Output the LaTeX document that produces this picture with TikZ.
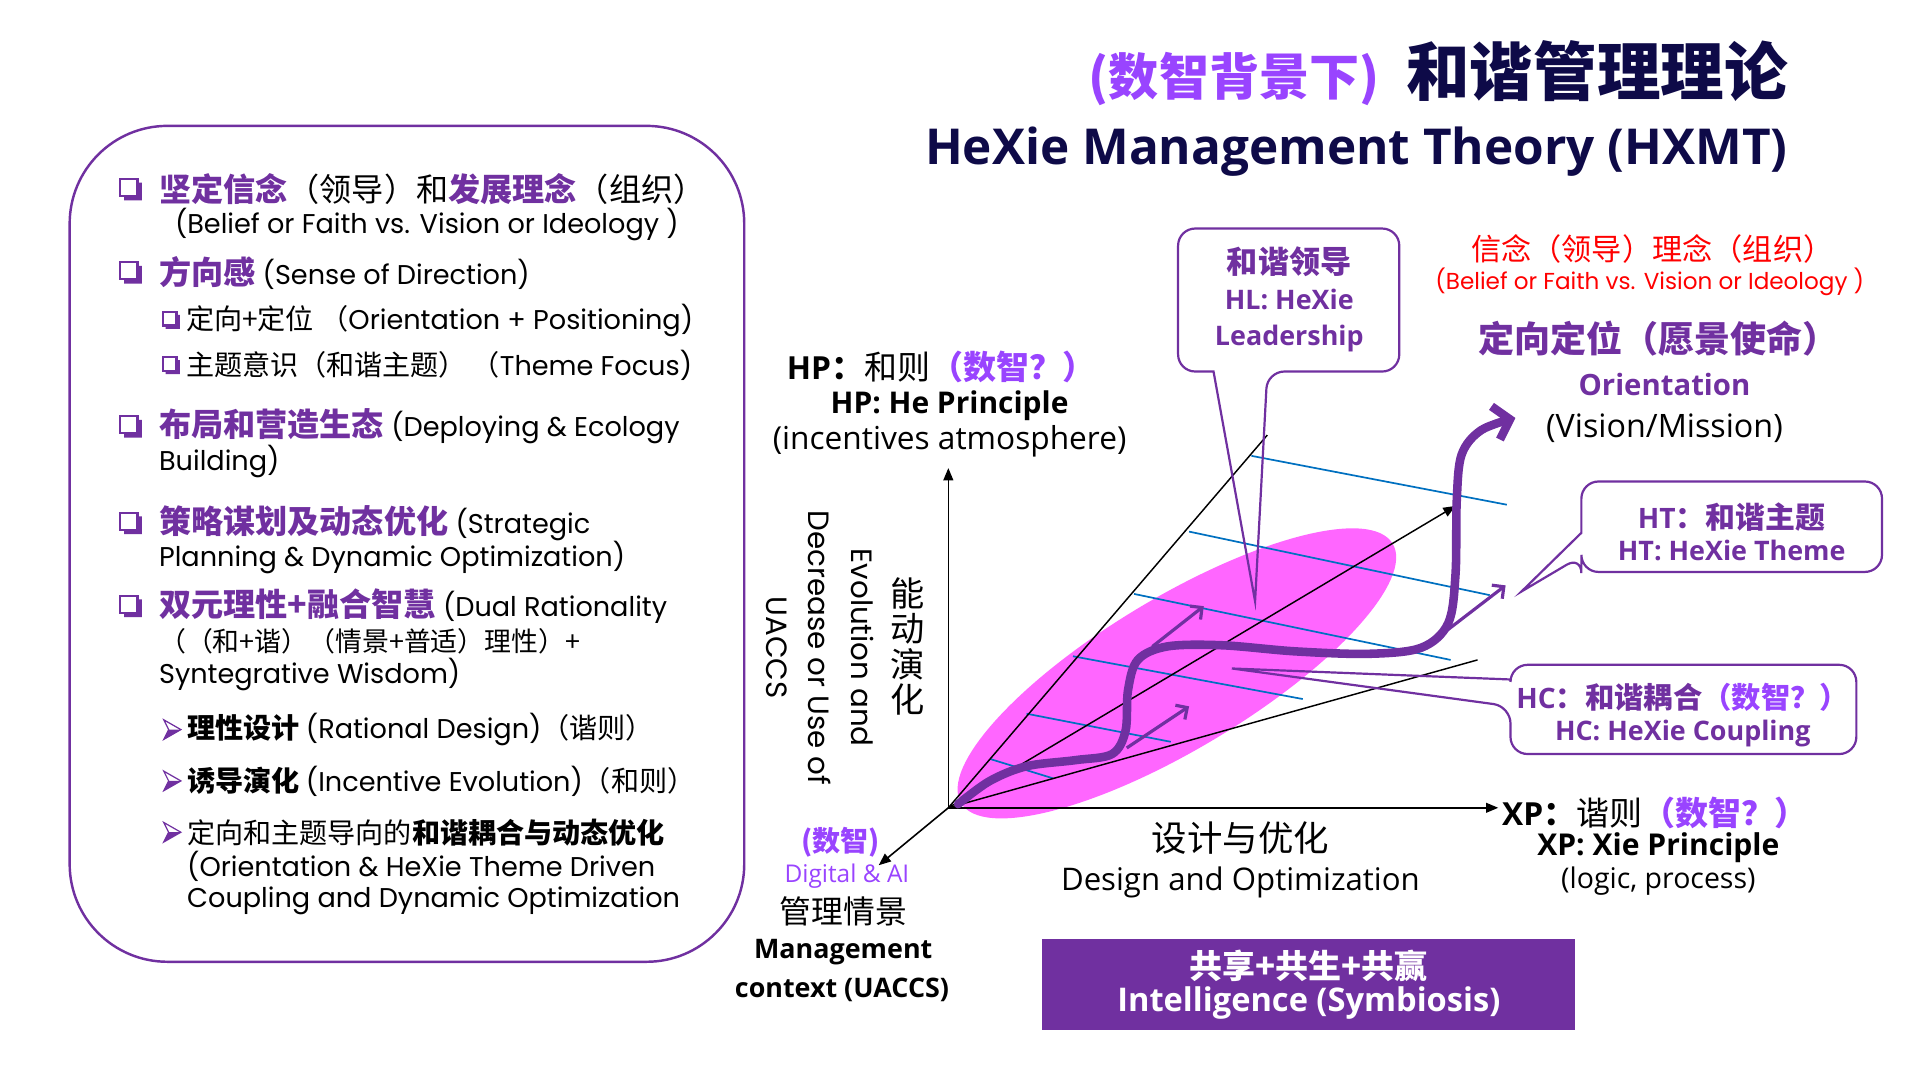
\documentclass[tikz,border=0pt]{standalone}
\usepackage{fontspec}
\setmainfont{Noto Sans CJK SC}
\newfontfamily\gothic{Poppins}
\newfontfamily\osans{Open Sans}
\usetikzlibrary{arrows.meta}
\definecolor{hxpurple}{RGB}{112,48,160}
\definecolor{hxbright}{RGB}{153,68,255}
\definecolor{hxmag}{RGB}{255,102,255}
\definecolor{hxblue}{RGB}{0,112,192}
\definecolor{hxnavy}{RGB}{14,10,72}
\definecolor{hxred}{RGB}{255,0,0}
\newcommand\hxfs[1]{\fontsize{#1}{#1}\selectfont}
\newcommand\hxhl[1]{{\bfseries\color{hxpurple}#1}}
\newcommand\hxg[1]{{\gothic\hxfs{22.2}#1}}
\tikzset{
  lt/.style={anchor=west, inner sep=0pt, text=black},
  ct/.style={inner sep=0pt, align=center},
  axis/.style={black, line width=1.3pt, -{Triangle[length=10pt,width=8pt]}},
  cone/.style={black, line width=1.2pt},
  grid/.style={hxblue, line width=1.4pt},
  callout/.style={draw=hxpurple, line width=1.8pt, fill=none},
  thin arrow/.style={hxpurple, line width=2.6pt, -{Straight Barb[length=7pt,width=14pt]}},
  sqbul/.pic={
    \draw[hxpurple, line width=1.8pt] (-8.5,-8.5) rectangle (5.5,5.5);
    \fill[hxpurple] (5.5,-5.5) -- (9,-5.5) -- (9,9) -- (-5.5,9) -- (-5.5,5.5) -- (5.5,5.5) -- cycle;
  },
  arrbul/.pic={
    \fill[white] (-6,-8) -- (8,0) -- (-2,0) -- cycle;
    \fill[hxpurple] (-2,0) -- (8,0) -- (-6,8) -- cycle;
    \draw[hxpurple, line width=1pt, line join=miter] (-6,-8) -- (8,0) -- (-6,8) -- (-2,0) -- cycle;
  },
}
\begin{document}
\begin{tikzpicture}[x=1pt,y=-1pt]
\useasboundingbox (0,0) rectangle (1567,874.7);

% ---------------- Title ----------------
\node[anchor=east, inner sep=0pt] (title) at (1463,60)
  {{\hxfs{41}\bfseries\color{hxbright}(数智背景下)}\hspace{22pt}{\hxfs{52}\bfseries\color{hxnavy}和谐管理理论}};
\node[anchor=east, inner sep=0pt] (subtitle) at (1463,124)
  {\osans\bfseries\hxfs{40.5}\color{hxnavy}HeXie Management Theory (HXMT)};

% ---------------- Left box ----------------
\node[draw=hxpurple, line width=2pt, rounded corners=80pt, minimum width=552pt,
      minimum height=684pt, inner sep=0pt] (leftbox) at (333,445) {};

\pic at (107,155) {sqbul};
\node[lt, font=\hxfs{26.3}] (l1) at (130,155) {\hxhl{坚定信念}（领导）和\hxhl{发展理念}（组织）};
\node[lt, font=\gothic\hxfs{22.2}] (l1e) at (143,184) {(Belief or Faith vs. Vision or Ideology )};

\pic at (107,223) {sqbul};
\node[lt, font=\hxfs{26.3}] (l2) at (130,223) {\hxhl{方向感} \hxg{(Sense of Direction)}};
\pic[scale=0.8] at (140,262) {sqbul};
\node[lt, font=\hxfs{23}] (l2a) at (152,262) {定向+定位 （\hxg{Orientation + Positioning)}};
\pic[scale=0.8] at (140,299) {sqbul};
\node[lt, font=\hxfs{23}] (l2b) at (152,299) {主题意识（和谐主题）\,（\hxg{Theme Focus)}};

\pic at (107,349) {sqbul};
\node[lt, font=\hxfs{26.3}] (l3) at (130,349) {\hxhl{布局和营造生态} \hxg{(Deploying \& Ecology}};
\node[lt, font=\gothic\hxfs{22.2}] (l3b) at (130,378) {Building)};

\pic at (107,428) {sqbul};
\node[lt, font=\hxfs{26.3}] (l4) at (130,428) {\hxhl{策略谋划及动态优化} \hxg{(Strategic}};
\node[lt, font=\gothic\hxfs{22.2}] (l4b) at (130,456) {Planning \& Dynamic Optimization)};

\pic at (107,496) {sqbul};
\node[lt, font=\hxfs{26.3}] (l5) at (130,496) {\hxhl{双元理性+融合智慧} \hxg{(Dual Rationality}};
\node[lt, font=\hxfs{22}] (l5b) at (130,525) {（（和+谐）（情景+普适）理性）+};
\node[lt, font=\gothic\hxfs{22.2}] (l5c) at (130,552) {Syntegrative Wisdom)};

\pic at (140,597) {arrbul};
\node[lt, font=\hxfs{23}] (l6) at (153,597) {{\bfseries 理性设计} \hxg{(Rational Design)}（谐则）};
\pic at (140,639) {arrbul};
\node[lt, font=\hxfs{23}] (l7) at (153,639) {{\bfseries 诱导演化} \hxg{(Incentive Evolution)}（和则）};
\pic at (140,681) {arrbul};
\node[lt, font=\hxfs{23}] (l8) at (153,681) {定向和主题导向的{\bfseries 和谐耦合与动态优化}};
\node[lt, font=\gothic\hxfs{22.2}] (l8b) at (153,709) {(Orientation \& HeXie Theme Driven};
\node[lt, font=\gothic\hxfs{22.2}] (l8c) at (153,737) {Coupling and Dynamic Optimization};

% ---------------- Diagram ----------------
\fill[hxmag, rotate around={31:(963,551)}] (963,551) ellipse [x radius=206pt, y radius=62pt];

\coordinate (O) at (776,661);
\coordinate (ytip) at (776,383);
\coordinate (xtip) at (1226,661);
\coordinate (ztip) at (719,708);
\coordinate (cup) at (1037,356);
\coordinate (cmid) at (1191,414);
\coordinate (clow) at (1209,540);

\draw[grid] (1024,373) -- (1233,413);
\draw[grid] (973,435) -- (1219,487);
\draw[grid] (928,486) -- (1187,540);
\draw[grid] (878,537) -- (1066,572);
\draw[grid] (840,584) -- (958,607);
\draw[grid] (810,621) -- (862,637);

\draw[cone] (O) -- (cup);
\draw[cone] (O) -- (clow);
\draw[cone, -{Triangle[length=10pt,width=8pt]}] (O) -- (cmid);
\draw[axis] (O) -- (ytip);
\draw[axis] (O) -- (xtip);
\draw[axis] (O) -- (ztip);

% thick evolution curve
\draw[hxpurple, line width=7pt, line cap=round, -{Straight Barb[length=12pt,width=28pt]}]
  plot[smooth, tension=0.55] coordinates {
   (784,658) (810,639) (840,627) (880,622) (910,617) (921,598) (923,565)
   (931,540) (955,529) (1000,528) (1060,533) (1120,535) (1163,530)
   (1185,510) (1191,470) (1192,410) (1196,372) (1212,352) (1240,342)};

\coordinate (a1s) at (943,529); \coordinate (a1e) at (985,496);
\coordinate (a2s) at (922,612); \coordinate (a2e) at (973,578);
\coordinate (a3s) at (1176,522); \coordinate (a3e) at (1232,479);
\draw[thin arrow] (a1s) -- (a1e);
\draw[thin arrow] (a2s) -- (a2e);
\draw[thin arrow] (a3s) -- (a3e);

% ---------------- Callouts ----------------
\draw[callout, rounded corners=14pt] (993,304) -- (964,304) -- (964,187) -- (1145,187)
  -- (1145,304) -- (1037,304) [sharp corners] -- (1027,492) -- cycle;
\node[ct, text=hxpurple] (hl) at (1055,245)
  {{\bfseries\hxfs{25.5}和谐领导}\\[9pt]{\osans\bfseries\hxfs{22}HL: HeXie}\\[12pt]{\osans\bfseries\hxfs{22}Leadership}};

\draw[callout, rounded corners=14pt] (1294,436) -- (1294,394) -- (1540,394) -- (1540,468)
  -- (1294,468) -- (1294,455) [sharp corners] -- (1245,484) -- cycle;
\node[ct, text=hxpurple] (ht) at (1417,435)
  {{\osans\bfseries\hxfs{23}HT}{\bfseries\hxfs{24.5}：和谐主题}\\[6pt]{\osans\bfseries\hxfs{22}HT: HeXie Theme}};

\draw[callout, rounded corners=14pt] (1236,556) -- (1236,544) -- (1519,544) -- (1519,617)
  -- (1236,617) -- (1236,578) [sharp corners] -- (1008,547) -- cycle;
\node[ct, text=hxpurple] (hc) at (1377,585)
  {{\osans\bfseries\hxfs{23}HC}{\bfseries\hxfs{24}：和谐耦合{\color{hxbright}（数智？）}}\\[6pt]{\osans\bfseries\hxfs{22}HC: HeXie Coupling}};

% ---------------- Right labels ----------------
\node[ct, text=hxred, font=\hxfs{24.7}] (red1) at (1352,204) {信念（领导）理念（组织）};
\node[ct, text=hxred, font=\gothic\hxfs{18.9}] (red2) at (1350,231) {(Belief or Faith vs. Vision or Ideology )};
\node[ct, text=hxpurple, font=\bfseries\hxfs{29.5}] (ori1) at (1357,277) {定向定位（愿景使命）};
\node[ct, text=hxpurple, font=\osans\bfseries\hxfs{24}] (ori2) at (1362,315) {Orientation};
\node[ct, text=black, font=\osans\hxfs{26.4}] (ori3) at (1362,350) {(Vision/Mission)};

% HP labels
\node[ct] (hp1) at (770,300) {{\osans\bfseries\hxfs{26}HP}{\hxfs{27}\bfseries：}{\hxfs{27}和则}{\hxfs{27}\bfseries\color{hxbright}（数智？）}};
\node[ct, font=\osans\bfseries\hxfs{24.5}] (hp2) at (777,332) {HP: He Principle};
\node[ct, font=\osans\hxfs{25.9}] (hp3) at (777,361) {(incentives atmosphere)};

% vertical labels
\node[ct, rotate=-90, font=\gothic\hxfs{24}] (vert) at (671,530) {Evolution and\\[11pt]Decrease or Use of\\[11pt]UACCS};
\node[ct, font=\hxfs{28}] (nengdong) at (743,529) {能\\[1pt]动\\[1pt]演\\[1pt]化};

% origin labels
\node[ct, text=hxbright, font=\bfseries\hxfs{23}] (sz) at (688,689) {(数智)};
\node[ct, text=hxbright, font=\osans\hxfs{20}] (dai) at (693,717) {Digital \& AI};
\node[ct, font=\hxfs{26}] (glqj) at (690,746) {管理情景};
\node[ct, font=\osans\bfseries\hxfs{22}] (mgmt) at (690,779) {Management};
\node[ct, font=\osans\bfseries\hxfs{22}] (ctx) at (689,810) {context (UACCS)};

% x labels
\node[ct, font=\hxfs{29}] (sjyh) at (1015,686) {设计与优化};
\node[ct, font=\osans\hxfs{25.5}] (dao) at (1015,722) {Design and Optimization};

\node[ct] (xp1) at (1354,665) {{\osans\bfseries\hxfs{26}XP}{\hxfs{27}\bfseries：}{\hxfs{27}谐则}{\hxfs{27}\bfseries\color{hxbright}（数智？）}};
\node[ct, font=\osans\bfseries\hxfs{24.6}] (xp2) at (1357,694) {XP: Xie Principle};
\node[ct, font=\osans\hxfs{23.3}] (xp3) at (1357,721) {(logic, process)};

% bottom box
\node[fill=hxpurple, minimum width=436pt, minimum height=75pt, inner sep=0pt, align=center, text=white]
  (sym) at (1071,805.5)
  {{\bfseries\hxfs{27}共享+共生+共赢}\\[3pt]{\osans\bfseries\hxfs{26.7}Intelligence (Symbiosis)}};

\end{tikzpicture}
\end{document}
